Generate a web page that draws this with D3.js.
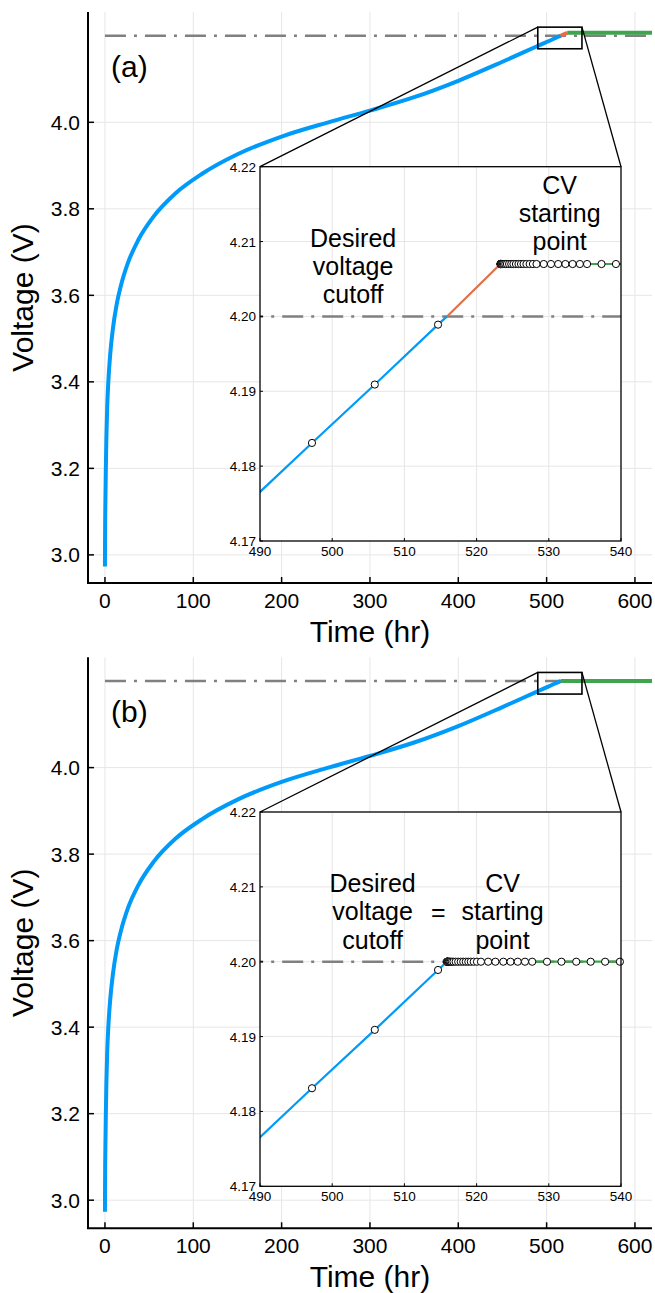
<!DOCTYPE html>
<html lang="en">
<head>
<meta charset="utf-8">
<title>CC-CV voltage</title>
<script src="https://cdn.jsdelivr.net/npm/d3@7"></script>
<style>
  body { margin: 0; background: #fff; }
  svg text { font-family: "Liberation Sans", Arial, Helvetica, sans-serif; fill: #000; }
</style>
</head>
<body>
<script>
// ---- data ----
// constant-current part (shared by both panels), hr / V
var ccTime = [0, 0.1, 0.3, 0.6, 1.0, 1.6, 2.5, 3.8, 6, 9, 13, 18, 26, 38, 55, 80, 110, 150, 200,
              253, 300, 350, 400, 450, 488.5, 497.2, 505.9, 514.66];
var ccVolt = [2.973, 3.03, 3.09, 3.14, 3.20, 3.27, 3.34, 3.40, 3.465, 3.523, 3.576, 3.622, 3.675, 3.729,
              3.782, 3.836, 3.881, 3.926, 3.967, 4.0, 4.027, 4.058, 4.096, 4.140, 4.1752, 4.1831, 4.1909, 4.1989];
var crossTime = 515.9;          // where the CC line meets the cutoff
var cutoffVolt = 4.2;

// panel (a): the last CC step overshoots the cutoff
var overshootTime = [515.9, 523.3];
var overshootVolt = [4.2, 4.207];

// constant-voltage steps
var cvTimeA = [523.30, 523.31, 523.32, 523.34, 523.37, 523.41, 523.47, 523.55, 523.66, 523.80, 523.98,
               524.2, 524.5, 524.8, 525.1, 525.45, 525.8, 526.15, 526.5, 526.9, 527.35, 527.8,
               528.3, 529.3, 530.3, 531.3, 532.3, 533.3, 534.3, 535.3, 537.3, 539.3, 620];
var cvVoltA = 4.207;
var cvTimeB = [515.90, 515.91, 515.92, 515.94, 515.97, 516.01, 516.07, 516.15, 516.26, 516.4, 516.58,
               516.8, 517.1, 517.45, 517.8, 518.15, 518.5, 518.85, 519.2, 519.6, 520.05,
               520.6, 521.6, 522.6, 523.7, 524.7, 525.7, 526.7, 527.7, 529.75, 531.75, 533.8, 535.8, 537.8, 539.85, 620];
var cvVoltB = 4.2;

var mainXTicks = [0, 100, 200, 300, 400, 500, 600];
var mainYTicks = [3.0, 3.2, 3.4, 3.6, 3.8, 4.0];
var insetXTicks = [490, 500, 510, 520, 530, 540];
var insetYTicks = [4.17, 4.18, 4.19, 4.20, 4.21, 4.22];

var blue = "#009af9", orange = "#e26f46", green = "#3ea44e", grey = "#808080", gridCol = "#e6e6e6";

var svg = d3.select("body").append("svg")
    .attr("width", 655).attr("height", 1293)
    .style("background", "#fff");

function pts(ts, vs) {
  return ts.map(function(t, i) { return [t, Array.isArray(vs) ? vs[i] : vs]; });
}

function drawPanel(id, dy, label, cvTime, cvVolt, withOvershoot, annot) {
  var g = svg.append("g").attr("transform", "translate(0," + dy + ")");

  var x = d3.scaleLinear().domain([-19.2, 619.3]).range([88, 652]);
  var y = d3.scaleLinear().domain([2.935, 4.255]).range([583, 12]);

  var ix = d3.scaleLinear().domain([490, 540]).range([260, 621]);
  var iy = d3.scaleLinear().domain([4.17, 4.22]).range([541, 166.7]);

  var ccPts = pts(ccTime, ccVolt).concat([[crossTime, cutoffVolt]]);
  var cvPts = pts(cvTime, cvVolt);

  // clip paths
  g.append("clipPath").attr("id", "clipM" + id).append("rect")
    .attr("x", 88).attr("y", 12).attr("width", 564).attr("height", 571);
  g.append("clipPath").attr("id", "clipI" + id).append("rect")
    .attr("x", 260).attr("y", 166.7).attr("width", 361).attr("height", 374.3);

  // main grid
  g.append("g").selectAll("line").data(mainXTicks).enter().append("line")
    .attr("x1", function(d) { return x(d); }).attr("x2", function(d) { return x(d); })
    .attr("y1", 12).attr("y2", 583).attr("stroke", gridCol).attr("stroke-width", 1);
  g.append("g").selectAll("line").data(mainYTicks).enter().append("line")
    .attr("y1", function(d) { return y(d); }).attr("y2", function(d) { return y(d); })
    .attr("x1", 88).attr("x2", 652).attr("stroke", gridCol).attr("stroke-width", 1);

  var mline = d3.line().x(function(d) { return x(d[0]); }).y(function(d) { return y(d[1]); });
  var mcurve = d3.line().curve(d3.curveMonotoneX)
    .x(function(d) { return x(d[0]); }).y(function(d) { return y(d[1]); });

  var plot = g.append("g").attr("clip-path", "url(#clipM" + id + ")");
  plot.append("path").attr("d", mline([[0, cutoffVolt], [cvTime[cvTime.length - 1], cutoffVolt]]))
    .attr("fill", "none").attr("stroke", grey).attr("stroke-width", 2.5)
    .attr("stroke-dasharray", "21,8,3,8");
  plot.append("path").attr("d", mcurve(ccPts))
    .attr("fill", "none").attr("stroke", blue).attr("stroke-width", 4);
  if (withOvershoot) {
    plot.append("path").attr("d", mline(pts(overshootTime, overshootVolt)))
      .attr("fill", "none").attr("stroke", orange).attr("stroke-width", 4);
  }
  plot.append("path").attr("d", mline(cvPts))
    .attr("fill", "none").attr("stroke", green).attr("stroke-width", 4);

  // main axes
  g.append("line").attr("x1", 88).attr("x2", 88).attr("y1", 12).attr("y2", 583)
    .attr("stroke", "#000").attr("stroke-width", 2);
  g.append("line").attr("x1", 87).attr("x2", 652).attr("y1", 583).attr("y2", 583)
    .attr("stroke", "#000").attr("stroke-width", 2);
  g.append("g").selectAll("line").data(mainXTicks).enter().append("line")
    .attr("x1", function(d) { return x(d); }).attr("x2", function(d) { return x(d); })
    .attr("y1", 583).attr("y2", 577).attr("stroke", "#000").attr("stroke-width", 1.5);
  g.append("g").selectAll("line").data(mainYTicks).enter().append("line")
    .attr("y1", function(d) { return y(d); }).attr("y2", function(d) { return y(d); })
    .attr("x1", 88).attr("x2", 94).attr("stroke", "#000").attr("stroke-width", 1.5);
  g.append("g").selectAll("text").data(mainXTicks).enter().append("text")
    .attr("x", function(d) { return x(d); }).attr("y", 608)
    .attr("text-anchor", "middle").style("font-size", "21px")
    .text(function(d) { return d; });
  g.append("g").selectAll("text").data(mainYTicks).enter().append("text")
    .attr("x", 80).attr("y", function(d) { return y(d) + 7.5; })
    .attr("text-anchor", "end").style("font-size", "21px")
    .text(function(d) { return d.toFixed(1); });
  g.append("text").attr("x", 370).attr("y", 642).attr("text-anchor", "middle")
    .style("font-size", "30px").text("Time (hr)");
  g.append("text").attr("transform", "translate(33,297.5) rotate(-90)")
    .attr("text-anchor", "middle").style("font-size", "30px").text("Voltage (V)");
  g.append("text").attr("x", 111).attr("y", 77).style("font-size", "30px").text(label);

  // zoom box and connectors
  g.append("rect").attr("x", x(490)).attr("y", y(4.22))
    .attr("width", x(540) - x(490)).attr("height", y(4.17) - y(4.22))
    .attr("fill", "none").attr("stroke", "#000").attr("stroke-width", 1.6);
  g.append("line").attr("x1", x(490)).attr("y1", y(4.22)).attr("x2", ix(490)).attr("y2", iy(4.22))
    .attr("stroke", "#000").attr("stroke-width", 1.3);
  g.append("line").attr("x1", x(540)).attr("y1", y(4.22)).attr("x2", ix(540)).attr("y2", iy(4.22))
    .attr("stroke", "#000").attr("stroke-width", 1.3);

  // ---- inset ----
  var ins = g.append("g");
  ins.append("rect").attr("x", 260).attr("y", 166.7).attr("width", 361).attr("height", 374.3).attr("fill", "#fff");
  ins.append("g").selectAll("line").data(insetXTicks.slice(1, -1)).enter().append("line")
    .attr("x1", function(d) { return ix(d); }).attr("x2", function(d) { return ix(d); })
    .attr("y1", 166.7).attr("y2", 541).attr("stroke", gridCol).attr("stroke-width", 1);
  ins.append("g").selectAll("line").data(insetYTicks.slice(1, -1)).enter().append("line")
    .attr("y1", function(d) { return iy(d); }).attr("y2", function(d) { return iy(d); })
    .attr("x1", 260).attr("x2", 621).attr("stroke", gridCol).attr("stroke-width", 1);

  var iline = d3.line().x(function(d) { return ix(d[0]); }).y(function(d) { return iy(d[1]); });
  var ip = ins.append("g").attr("clip-path", "url(#clipI" + id + ")");
  ip.append("path").attr("d", iline([[0, cutoffVolt], [cvTime[cvTime.length - 1], cutoffVolt]]))
    .attr("fill", "none").attr("stroke", grey).attr("stroke-width", 2.5)
    .attr("stroke-dasharray", "21,8,3,8");
  var ccIn = ccPts.filter(function(d) { return d[0] > 480; });
  ip.append("path").attr("d", iline(ccIn))
    .attr("fill", "none").attr("stroke", blue).attr("stroke-width", 2.2);
  if (withOvershoot) {
    ip.append("path").attr("d", iline(pts(overshootTime, overshootVolt)))
      .attr("fill", "none").attr("stroke", orange).attr("stroke-width", 2.2);
  }
  ip.append("path").attr("d", iline(cvPts))
    .attr("fill", "none").attr("stroke", green).attr("stroke-width", 2.2);

  var marks = pts(ccTime, ccVolt).concat(cvPts)
    .filter(function(d) { return d[0] >= 490 && d[0] <= 540.2; });
  ins.append("g").selectAll("circle").data(marks).enter().append("circle")
    .attr("cx", function(d) { return ix(d[0]); }).attr("cy", function(d) { return iy(d[1]); })
    .attr("r", 3.6).attr("fill", "#fff").attr("stroke", "#000").attr("stroke-width", 1);

  ins.append("rect").attr("x", 260).attr("y", 166.7).attr("width", 361).attr("height", 374.3)
    .attr("fill", "none").attr("stroke", "#000").attr("stroke-width", 1.3);
  ins.append("g").selectAll("line").data(insetXTicks).enter().append("line")
    .attr("x1", function(d) { return ix(d); }).attr("x2", function(d) { return ix(d); })
    .attr("y1", 541).attr("y2", 538).attr("stroke", "#000").attr("stroke-width", 1);
  ins.append("g").selectAll("line").data(insetYTicks).enter().append("line")
    .attr("y1", function(d) { return iy(d); }).attr("y2", function(d) { return iy(d); })
    .attr("x1", 260).attr("x2", 263).attr("stroke", "#000").attr("stroke-width", 1);
  ins.append("g").selectAll("text").data(insetXTicks).enter().append("text")
    .attr("x", function(d) { return ix(d); }).attr("y", 556)
    .attr("text-anchor", "middle").style("font-size", "13.5px")
    .text(function(d) { return d; });
  ins.append("g").selectAll("text").data(insetYTicks).enter().append("text")
    .attr("x", 256).attr("y", function(d) { return iy(d) + 5; })
    .attr("text-anchor", "end").style("font-size", "13.5px")
    .text(function(d) { return d.toFixed(2); });

  annot.forEach(function(a) {
    var t = ins.append("text").attr("text-anchor", "middle").style("font-size", "25px");
    a.lines.forEach(function(s, i) {
      t.append("tspan").attr("x", ix(a.t)).attr("y", iy(a.v) + i * 28.3).text(s);
    });
  });
}

drawPanel("a", 0, "(a)", cvTimeA, cvVoltA, true, [
  { t: 502.9, v: 4.2093, lines: ["Desired", "voltage", "cutoff"] },
  { t: 531.5, v: 4.2164, lines: ["CV", "starting", "point"] }
]);
drawPanel("b", 645.3, "(b)", cvTimeB, cvVoltB, false, [
  { t: 505.6, v: 4.2093, lines: ["Desired", "voltage", "cutoff"] },
  { t: 514.7, v: 4.2055, lines: ["="] },
  { t: 523.6, v: 4.2093, lines: ["CV", "starting", "point"] }
]);
</script>
</body>
</html>
